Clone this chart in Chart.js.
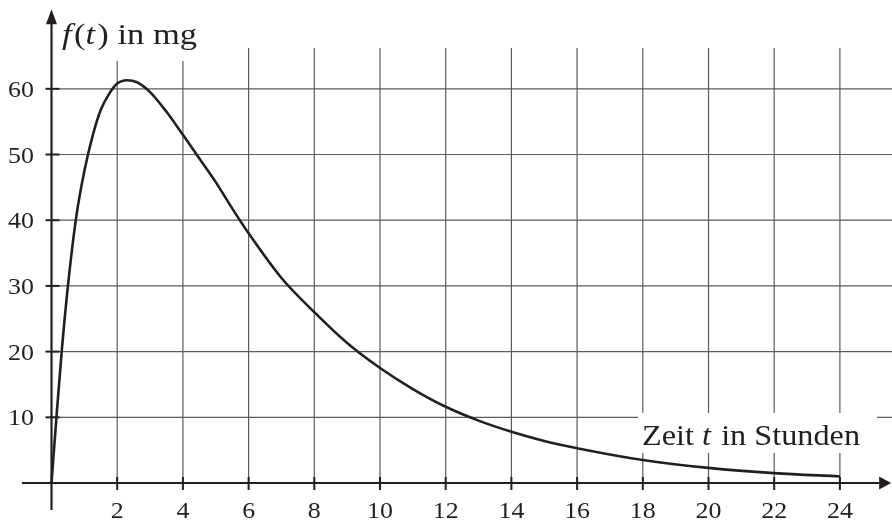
<!DOCTYPE html>
<html>
<head>
<meta charset="utf-8">
<script src="https://cdn.jsdelivr.net/npm/chart.js@4/dist/chart.umd.min.js"></script>
<style>
  html, body { margin: 0; padding: 0; background: #fff; }
  #wrap { width: 892px; height: 523px; position: relative; }
  #fontprobe { position: absolute; left: -9999px; top: 0; font-family: "Liberation Serif", "Times New Roman", serif; font-size: 24px; }
</style>
</head>
<body>
<div id="wrap"><canvas id="c"></canvas></div>
<span id="fontprobe">Zeit <i>t</i> in Stunden 0123456789</span>
<script>
// ---- data ----
const tHours = [0, 0.15, 0.31, 0.5, 0.75, 1.0, 1.25, 1.5, 1.75, 2.0, 2.3, 2.6, 3.0, 3.5, 4.0, 4.5, 5.0, 5.5, 6, 7, 8, 9, 10, 11, 12, 13, 14, 15, 16, 18, 20, 22, 24];
const fMg    = [0, 10, 20, 30, 40.4, 47.5, 52.8, 56.8, 59.2, 60.8, 61.3, 61.0, 59.5, 56.5, 53.0, 49.4, 45.8, 41.8, 38.0, 31.2, 26.0, 21.3, 17.5, 14.3, 11.6, 9.5, 7.8, 6.4, 5.3, 3.5, 2.3, 1.5, 1.0];
const xTickLabels = [2, 4, 6, 8, 10, 12, 14, 16, 18, 20, 22, 24];
const yTickLabels = [10, 20, 30, 40, 50, 60];
const yTitle = ['f', '(', 't', ')', ' in mg'];
const xTitle = ['Zeit ', 't', ' in Stunden'];

const INK = '#231f20';
const GRID = '#5a5a5a';
const SERIF = '"Liberation Serif", "Times New Roman", Times, serif';
const STRETCH = 1.08;

function drawRich(ctx, parts, italicIdx, x, y, size, targetW) {
  ctx.save();
  const gap = 2;
  let natural = 0;
  parts.forEach((p, i) => {
    ctx.font = (italicIdx.includes(i) ? 'italic ' : '') + size + 'px ' + SERIF;
    natural += ctx.measureText(p).width + (italicIdx.includes(i) ? gap : 0);
  });
  const sx = targetW ? targetW / natural : STRETCH;
  ctx.translate(x, y);
  ctx.scale(sx, 1);
  let cx = 0;
  parts.forEach((p, i) => {
    ctx.font = (italicIdx.includes(i) ? 'italic ' : '') + size + 'px ' + SERIF;
    ctx.fillText(p, cx, 0);
    cx += ctx.measureText(p).width + (italicIdx.includes(i) ? gap : 0);
  });
  ctx.restore();
}

const decor = {
  id: 'decor',
  beforeDatasetsDraw(chart) {
    const { ctx, scales: { x, y } } = chart;
    const px = v => x.getPixelForValue(v);
    const py = v => y.getPixelForValue(v);
    ctx.save();
    // grid
    ctx.strokeStyle = GRID;
    ctx.lineWidth = 1.2;
    yTickLabels.forEach(v => {
      ctx.beginPath(); ctx.moveTo(px(0), py(v)); ctx.lineTo(chart.width, py(v)); ctx.stroke();
    });
    xTickLabels.forEach(v => {
      ctx.beginPath(); ctx.moveTo(px(v), py(0)); ctx.lineTo(px(v), py(66.2)); ctx.stroke();
    });
    // white label boxes
    ctx.fillStyle = '#fff';
    ctx.fillRect(56, 0, 150, 61);
    ctx.fillRect(638, 413, 239, 40);

    // axes
    ctx.strokeStyle = INK; ctx.fillStyle = INK; ctx.lineWidth = 2.2;
    ctx.beginPath(); ctx.moveTo(px(-0.9), py(0)); ctx.lineTo(px(25.2), py(0)); ctx.stroke();
    ctx.beginPath(); ctx.moveTo(px(0), py(-4.1)); ctx.lineTo(px(0), py(71)); ctx.stroke();
    // arrows
    const ax = px(25.56), ay = py(0);
    ctx.beginPath(); ctx.moveTo(ax, ay); ctx.lineTo(ax - 12, ay - 6.5); ctx.lineTo(ax - 12, ay + 6.5); ctx.closePath(); ctx.fill();
    const bx = px(0), by = py(72.1);
    ctx.beginPath(); ctx.moveTo(bx, by); ctx.lineTo(bx - 5.5, by + 15); ctx.lineTo(bx + 5.5, by + 15); ctx.closePath(); ctx.fill();

    // ticks
    ctx.lineWidth = 2;
    xTickLabels.forEach(v => {
      ctx.beginPath(); ctx.moveTo(px(v), py(0) - 6); ctx.lineTo(px(v), py(0) + 7); ctx.stroke();
    });
    yTickLabels.forEach(v => {
      ctx.beginPath(); ctx.moveTo(px(0) - 6, py(v)); ctx.lineTo(px(0) + 8, py(v)); ctx.stroke();
    });

    // tick labels
    ctx.font = '24px ' + SERIF;
    ctx.textBaseline = 'alphabetic';
    xTickLabels.forEach(v => {
      const s = String(v);
      const w = ctx.measureText(s).width * STRETCH;
      ctx.save(); ctx.translate(px(v) - w / 2, 518); ctx.scale(STRETCH, 1); ctx.fillText(s, 0, 0); ctx.restore();
    });
    yTickLabels.forEach(v => {
      const s = String(v);
      const w = ctx.measureText(s).width * STRETCH;
      ctx.save(); ctx.translate(34 - w, py(v) + 8); ctx.scale(STRETCH, 1); ctx.fillText(s, 0, 0); ctx.restore();
    });

    // axis titles
    drawRich(ctx, yTitle, [0, 2], 62, 44, 30, 135);
    drawRich(ctx, xTitle, [1], 642, 445, 30, 218);
    ctx.restore();
  }
};

function build() {
  new Chart(document.getElementById('c'), {
    type: 'scatter',
    data: {
      datasets: [{
        data: tHours.map((t, i) => ({ x: t, y: fMg[i] })),
        showLine: true,
        borderColor: INK,
        borderWidth: 2.6,
        pointRadius: 0,
        fill: false,
        cubicInterpolationMode: 'monotone'
      }]
    },
    options: {
      responsive: true,
      maintainAspectRatio: false,
      animation: false,
      layout: { padding: 0 },
      plugins: { legend: { display: false }, tooltip: { enabled: false } },
      scales: {
        x: { type: 'linear', display: false, min: -1.568, max: 25.586 },
        y: { type: 'linear', display: false, min: -6.088, max: 73.52 }
      }
    },
    plugins: [decor]
  });
}
const loads = ['24px "Liberation Serif"', 'italic 24px "Liberation Serif"'].map(f => document.fonts.load(f).catch(() => null));
Promise.all(loads).then(build, build);
</script>
</body>
</html>
